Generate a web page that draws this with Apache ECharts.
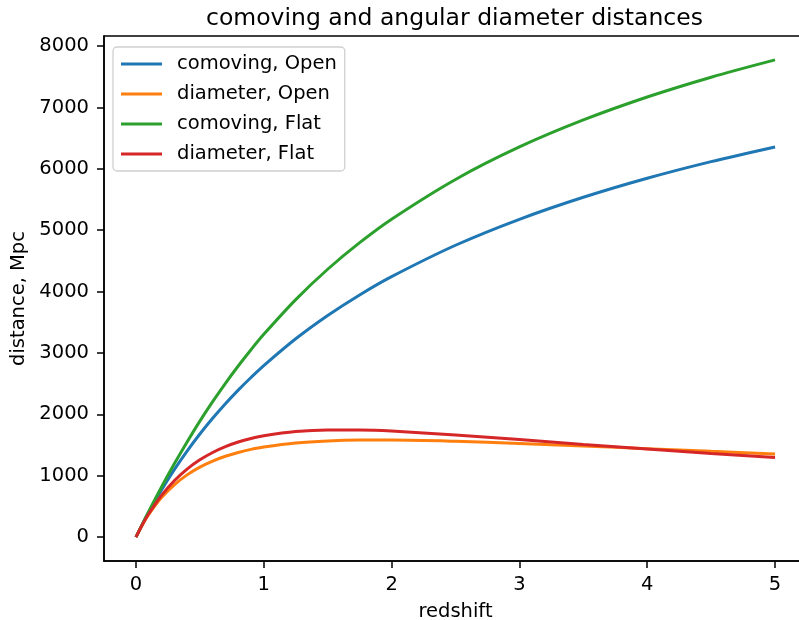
<!DOCTYPE html>
<html>
<head>
<meta charset="utf-8">
<script src="https://cdn.jsdelivr.net/npm/echarts@6/dist/echarts.min.js"></script>
<style>html,body{margin:0;padding:0;background:#fff}#c{width:799px;height:620px}</style>
</head>
<body>
<div id="c"></div>
<script>
const redshift = [0, 0.05, 0.1, 0.2, 0.3, 0.4, 0.5, 0.6, 0.7, 0.8, 0.9, 1.0, 1.25, 1.5, 1.75, 2.0, 2.5, 3.0, 3.5, 4.0, 4.5, 5.0];
const comovingOpen = [0, 208, 405, 770, 1100, 1402, 1680, 1936, 2173, 2395, 2601, 2795, 3231, 3611, 3946, 4244, 4755, 5178, 5537, 5847, 6118, 6357];
const diameterOpen = [0, 198, 369, 644, 853, 1014, 1140, 1239, 1317, 1379, 1429, 1468, 1533, 1567, 1581, 1582, 1562, 1527, 1485, 1441, 1397, 1354];
const comovingFlat = [0, 212, 418, 817, 1194, 1551, 1889, 2206, 2506, 2788, 3053, 3304, 3870, 4364, 4797, 5180, 5827, 6356, 6796, 7170, 7493, 7775];
const diameterFlat = [0, 202, 380, 681, 919, 1108, 1259, 1379, 1474, 1549, 1607, 1652, 1720, 1745, 1744, 1727, 1665, 1589, 1510, 1434, 1362, 1296];
const seriesNames = ['comoving, Open', 'diameter, Open', 'comoving, Flat', 'diameter, Flat'];
const seriesColors = ['#1f77b4', '#ff7f0e', '#2ca02c', '#d62728'];
const xTicks = [0, 1, 2, 3, 4, 5];
const yTicks = [0, 1000, 2000, 3000, 4000, 5000, 6000, 7000, 8000];
const titleText = 'comoving and angular diameter distances';
const xLabel = 'redshift';
const yLabel = 'distance, Mpc';

const FONT = 'DejaVu Sans';
const allSeries = [comovingOpen, diameterOpen, comovingFlat, diameterFlat];
const chart = echarts.init(document.getElementById('c'), null, {renderer: 'canvas'});
chart.setOption({
  animation: false,
  backgroundColor: '#ffffff',
  title: {
    text: titleText, left: 201, top: 2, padding: 5,
    textStyle: {fontFamily: FONT, fontSize: 23.5, fontWeight: 'normal', color: '#000'}
  },
  legend: {
    orient: 'vertical', left: 113, top: 47,
    data: seriesNames,
    icon: 'rect', itemWidth: 41, itemHeight: 3, itemGap: 10,
    padding: [7, 8, 7, 8],
    backgroundColor: 'rgba(255,255,255,0.8)',
    borderColor: '#d0d0d0', borderWidth: 1.3, borderRadius: 4,
    textStyle: {fontFamily: FONT, fontSize: 19.5, color: '#000', padding: [0, 0, 0, 10]}
  },
  grid: {
    left: 104, top: 36, right: -8, bottom: 59, containLabel: false, outerBoundsMode: 'none',
    show: true, borderColor: '#000', borderWidth: 1.5, backgroundColor: 'transparent'
  },
  xAxis: {
    type: 'value', min: -0.25, max: 5.25,
    name: xLabel, nameLocation: 'middle', nameGap: 41,
    nameTextStyle: {fontFamily: FONT, fontSize: 19.5, color: '#000'},
    axisLine: {show: true, onZero: false, lineStyle: {color: '#000', width: 1.5}},
    axisTick: {show: true, customValues: xTicks, length: 7, lineStyle: {color: '#000', width: 1.5}},
    axisLabel: {customValues: xTicks, margin: 14, fontFamily: FONT, fontSize: 19.5, color: '#000',
      formatter: v => String(v)},
    splitLine: {show: false}
  },
  yAxis: {
    type: 'value', min: -389, max: 8164,
    name: yLabel, nameLocation: 'middle', nameGap: 66,
    nameTextStyle: {fontFamily: FONT, fontSize: 19.5, color: '#000'},
    axisLine: {show: true, onZero: false, lineStyle: {color: '#000', width: 1.5}},
    axisTick: {show: true, customValues: yTicks, length: 7, lineStyle: {color: '#000', width: 1.5}},
    axisLabel: {customValues: yTicks, margin: 15, fontFamily: FONT, fontSize: 19.5, color: '#000',
      formatter: v => String(v)},
    splitLine: {show: false}
  },
  series: seriesNames.map((name, i) => ({
    name: name, type: 'line', smooth: 0.3, showSymbol: false, symbol: 'none',
    color: seriesColors[i],
    lineStyle: {width: 3, color: seriesColors[i]},
    data: redshift.map((z, k) => [z, allSeries[i][k]])
  }))
});
</script>
</body>
</html>
